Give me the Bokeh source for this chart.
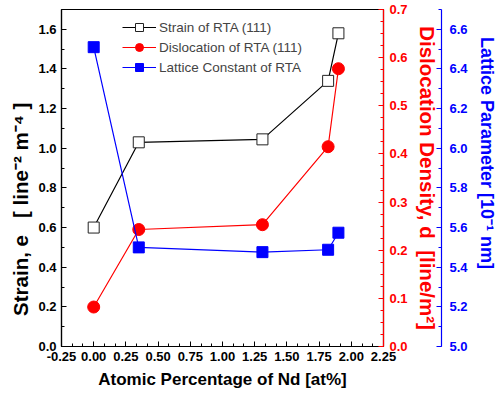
from bokeh.plotting import figure
from bokeh.models import (Range1d, LinearAxis, SingleIntervalTicker, PrintfTickFormatter, Legend, LegendItem)
from bokeh.embed import file_html
from bokeh.resources import INLINE

# ---- data ----
nd_at = [0.0, 0.35, 1.31, 1.82, 1.90]
strain = [0.60, 1.03, 1.045, 1.34, 1.58]
dislocation = [0.082, 0.243, 0.253, 0.415, 0.577]
lattice = [6.51, 5.50, 5.476, 5.488, 5.574]

FONT = "Liberation Sans"
NB = "\u00a0"

p = figure(width=499, height=404, output_backend="svg", toolbar_location=None,
           x_range=Range1d(-0.25, 2.25), y_range=Range1d(0, 1.7),
           min_border_left=61, min_border_right=102, min_border_top=9, min_border_bottom=58)
p.extra_y_ranges = {"disl": Range1d(0, 0.700001), "lat": Range1d(5.0, 6.7)}
p.xgrid.visible = False
p.ygrid.visible = False
p.outline_line_color = "black"
p.outline_line_width = 1.2
p.background_fill_color = "white"
p.border_fill_color = "white"

def style_axis(ax, color, interval, nminor, fmt, label_size="18px"):
    ax.ticker = SingleIntervalTicker(interval=interval, num_minor_ticks=nminor)
    ax.formatter = PrintfTickFormatter(format=fmt)
    ax.axis_line_color = color
    ax.axis_line_width = 1.2
    ax.major_tick_line_color = color
    ax.minor_tick_line_color = color
    ax.major_tick_in = 5
    ax.major_tick_out = 0
    ax.minor_tick_in = 3
    ax.minor_tick_out = 0
    ax.major_label_text_color = color
    ax.major_label_text_font = FONT
    ax.major_label_text_font_style = "bold"
    ax.major_label_text_font_size = "13px"
    ax.axis_label_text_color = color
    ax.axis_label_text_font = FONT
    ax.axis_label_text_font_style = "bold"
    ax.axis_label_text_font_size = label_size

xa = p.xaxis[0]
style_axis(xa, "black", 0.25, 3, "%.2f", "17px")
xa.axis_label = "Atomic Percentage of Nd [at%]"
xa.axis_label_standoff = 6

ya = p.yaxis[0]
style_axis(ya, "black", 0.2, 2, "%.1f", "20.5px")
ya.axis_label = "Strain, e" + NB * 3 + "[ line\u207b\u00b2 m\u207b\u2074 ]" + NB * 11
ya.axis_label_standoff = 3

ra = LinearAxis(y_range_name="disl")
style_axis(ra, "red", 0.1, 4, "%.1f", "20.5px")
ra.axis_label = "Dislocation Density, d" + NB * 2 + "[line/m\u00b2]"
ra.axis_label_standoff = 5
ra.major_label_standoff = 6
p.add_layout(ra, "right")

ba = LinearAxis(y_range_name="lat")
style_axis(ba, "blue", 0.2, 2, "%.1f", "18px")
ba.axis_label = "Lattice Parameter [10\u207b\u00b9 nm]" + NB * 10
ba.axis_label_standoff = 6
ba.major_label_standoff = 8
p.add_layout(ba, "right")

l1 = p.line(nd_at, strain, line_color="black", line_width=1.2)
s1 = p.scatter(nd_at, strain, marker="square", size=11, fill_color="white",
               line_color="#222222", line_width=1)
l2 = p.line(nd_at, dislocation, line_color="red", line_width=1.2, y_range_name="disl")
s2 = p.scatter(nd_at, dislocation, marker="circle", size=12, fill_color="red",
               line_color="red", y_range_name="disl")
l3 = p.line(nd_at, lattice, line_color="blue", line_width=1.2, y_range_name="lat")
s3 = p.scatter(nd_at, lattice, marker="square", size=11, fill_color="blue",
               line_color="blue", y_range_name="lat")

legend = Legend(items=[
    LegendItem(label="Strain of RTA (111)", renderers=[l1, s1]),
    LegendItem(label="Dislocation of RTA (111)", renderers=[l2, s2]),
    LegendItem(label="Lattice Constant of RTA", renderers=[l3, s3]),
], location=(61, 269))
legend.padding = 0
legend.margin = 0
legend.spacing = 0
legend.glyph_width = 34
legend.glyph_height = 20
legend.label_height = 20
legend.label_standoff = 3
legend.border_line_color = None
legend.background_fill_alpha = 0
legend.label_text_font = FONT
legend.label_text_font_size = "13.5px"
p.add_layout(legend, "center")

open("out.html", "w").write(file_html(p, INLINE))
